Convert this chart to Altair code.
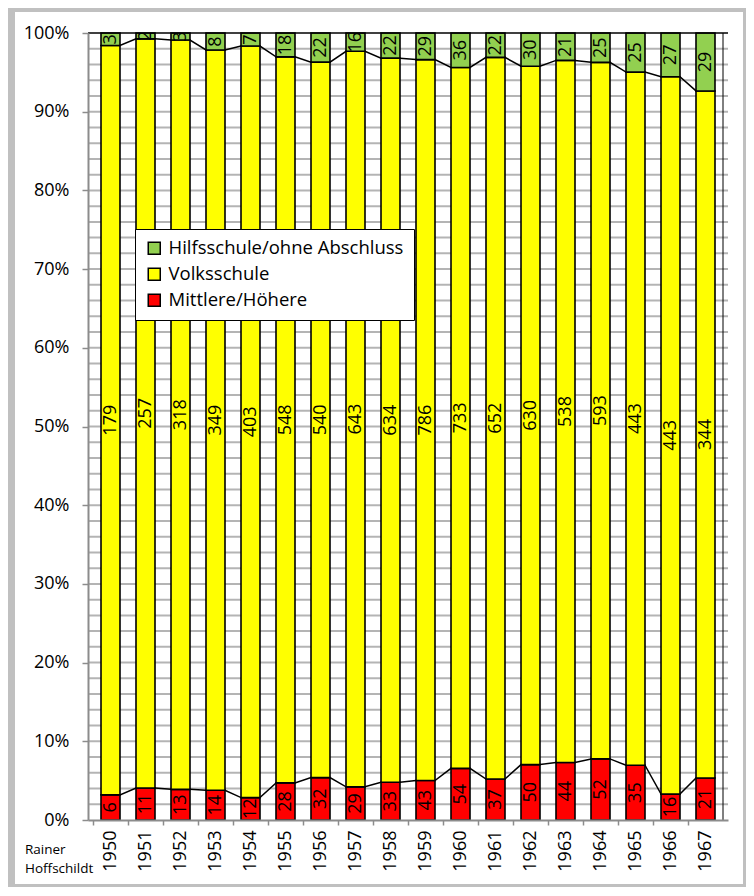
import altair as alt
import pandas as pd

years = [1950, 1951, 1952, 1953, 1954, 1955, 1956, 1957, 1958,
         1959, 1960, 1961, 1962, 1963, 1964, 1965, 1966, 1967]
mittlere = [6, 11, 13, 14, 12, 28, 32, 29, 33, 43, 54, 37, 50, 44, 52, 35, 16, 21]
volks = [179, 257, 318, 349, 403, 548, 540, 643, 634, 786, 733, 652, 630, 538, 593, 443, 443, 344]
hilfs = [3, 2, 3, 8, 7, 18, 22, 16, 22, 29, 36, 22, 30, 21, 25, 25, 27, 29]

categories = ["Hilfsschule/ohne Abschluss", "Volksschule", "Mittlere/Höhere"]
colors = ["#92d050", "#ffff00", "#ff0000"]
y_ticks = [0.0, 0.1, 0.2, 0.3, 0.4, 0.5, 0.6, 0.7, 0.8, 0.9, 1.0]
grid_ticks = [i / 50 for i in range(1, 50)]
author = ["Rainer", "Hoffschildt"]

FONT = "Open Sans"
W, H = 640, 787
HALF = 0.27  # half bar width in category units

rows = []
edges = []
for i, yr in enumerate(years):
    tot = mittlere[i] + volks[i] + hilfs[i]
    start = 0.0
    for cat, val in [("Mittlere/Höhere", mittlere[i]),
                     ("Volksschule", volks[i]),
                     ("Hilfsschule/ohne Abschluss", hilfs[i])]:
        end = start + val / tot
        rows.append(dict(year=yr, cat=cat, n=val, y0=start, y1=end, mid=(start + end) / 2))
        start = end
    c1 = mittlere[i] / tot
    c2 = (mittlere[i] + volks[i]) / tot
    for dx in (-HALF, HALF):
        edges.append(dict(x=yr + dx, y=c1, s="a"))
        edges.append(dict(x=yr + dx, y=c2, s="b"))

df = pd.DataFrame(rows)
edf = pd.DataFrame(edges)
gdf = pd.DataFrame({"g": grid_ticks})
one = pd.DataFrame({"a": [0]})

half_px = W / len(years) / 2
xscale = alt.Scale(domain=[1949.5, 1967.5], nice=False, zero=False)
yscale = alt.Scale(domain=[0, 1], nice=False)

xaxis = alt.Axis(values=years, format="d", labelAngle=270, tickOffset=-half_px,
                 labelOffset=half_px, tickSize=5, tickColor="#8c8c8c", tickWidth=1.5,
                 domainColor="#8c8c8c", domainWidth=2, labelFontSize=18, labelFont=FONT,
                 labelColor="black", labelPadding=5, grid=False, title=None,
                 labelFlush=False, labelOverlap=False, zindex=1)
yaxis = alt.Axis(values=y_ticks, format=".0%", tickSize=6, tickColor="#8c8c8c",
                 tickWidth=1.5, domainColor="#8c8c8c", domainWidth=2, labelFontSize=18,
                 labelFont=FONT, labelColor="black", labelPadding=13, grid=False,
                 title=None, zindex=1)

bg = alt.Chart(one).mark_rect(color="white").encode(
    x=alt.value(-73), x2=alt.value(655), y=alt.value(-21), y2=alt.value(851))

grid = alt.Chart(gdf).mark_rule(color="#b4b4b4", strokeWidth=2).encode(
    y=alt.Y("g:Q", scale=yscale, axis=yaxis))

lines = alt.Chart(edf).mark_line(color="black", strokeWidth=1.5).encode(
    x=alt.X("x:Q", scale=xscale, axis=xaxis),
    y=alt.Y("y:Q", scale=yscale, axis=yaxis),
    detail="s:N", order="x:Q")

bars = alt.Chart(df).mark_bar(size=19, stroke="black", strokeWidth=1.6).encode(
    x=alt.X("year:Q", scale=xscale, axis=xaxis),
    y=alt.Y("y0:Q", scale=yscale, axis=yaxis),
    y2="y1:Q",
    color=alt.Color("cat:N", scale=alt.Scale(domain=categories, range=colors),
                    legend=alt.Legend(title=None, orient="none", legendX=47, legendY=196,
                                      fillColor="white", strokeColor="black",
                                      padding=10, rowPadding=7, symbolType="square",
                                      symbolSize=144, symbolStrokeColor="black",
                                      symbolStrokeWidth=1.5, labelFontSize=18.5,
                                      labelFont=FONT, labelColor="black",
                                      labelLimit=0, labelOffset=5)))

labels = alt.Chart(df).mark_text(angle=270, fontSize=18, font=FONT, clip=True,
                                 color="black", align="center", baseline="middle").encode(
    x=alt.X("year:Q", scale=xscale, axis=xaxis),
    y=alt.Y("mid:Q", scale=yscale, axis=yaxis),
    text="n:Q")

top = alt.Chart(one).mark_rule(color="black", strokeWidth=1.5).encode(
    y=alt.YDatum(1, type="quantitative", scale=yscale, axis=yaxis))
right = alt.Chart(one).mark_rule(color="black", strokeWidth=1).encode(
    x=alt.XDatum(1967.5, type="quantitative", scale=xscale, axis=xaxis))

auth = alt.Chart(one).mark_text(text=author, align="left", baseline="alphabetic",
                                fontSize=13.5, font=FONT, lineHeight=19,
                                color="black").encode(x=alt.value(-63), y=alt.value(821))

chart = alt.layer(bg, grid, lines, bars, labels, top, right, auth).properties(
    width=W, height=H,
    autosize=alt.AutoSizeParams(type="none"),
    padding={"left": 80, "top": 25, "right": 18, "bottom": 67},
    background="#c0c0c0",
).configure_view(stroke=None)

chart.save("out.html", embed_options={"renderer": "svg", "actions": False})
